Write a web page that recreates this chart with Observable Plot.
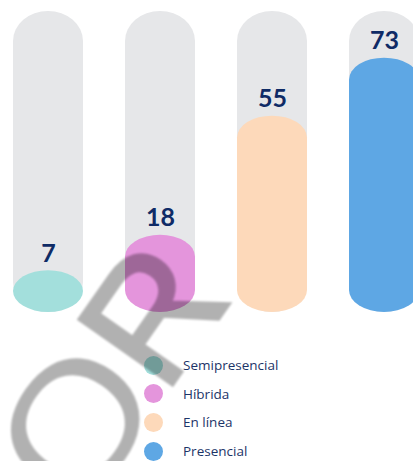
<!DOCTYPE html>
<html>
<head>
<meta charset="utf-8">
<script src="https://cdn.jsdelivr.net/npm/d3@7"></script>
<script src="https://cdn.jsdelivr.net/npm/@observablehq/plot@0.6"></script>
<style>
  html, body { margin: 0; padding: 0; background: #fff; overflow: hidden; width: 413px; height: 461px; }
  #wrap { position: relative; width: 413px; height: 461px; overflow: hidden; }
  #chart svg { display: block; overflow: hidden; }
  #legend { margin-top: 21px; padding-left: 144px; font-family: "Open Sans", "Noto Sans", sans-serif; font-size: 13.5px; color: #1c3468; }
  .row { display: flex; align-items: center; height: 28.6px; }
  .dot { width: 19px; height: 19px; border-radius: 50%; margin-right: 20px; flex: none; }
  #wm { position: absolute; left: 0; top: 0; pointer-events: none; }
</style>
</head>
<body>
<div id="wrap">
  <div id="chart"></div>
  <div id="legend"></div>
  <svg id="wm" width="413" height="461"></svg>
</div>
<script>
// ---- data ----
const categories = ["Semipresencial", "Híbrida", "En línea", "Presencial"];
const values = [7, 18, 55, 73];
const colors = ["#a3dfdc", "#e495dc", "#fdd9ba", "#5ea7e4"];
const legendLabels = ["Semipresencial", "Híbrida", "En línea", "Presencial"];
const legendColors = ["#a3dfdc", "#e495dc", "#fdd9ba", "#5ea7e4"];
const trackValue = 87.5;   // value reached by the grey track
const scaleFloor = -6;     // baseline of the pills

const data = categories.map((c, i) => ({category: c, value: values[i], color: colors[i]}));
const tracks = categories.map(c => ({category: c, value: trackValue}));

const chart = Plot.plot({
  width: 413,
  height: 330,
  margin: 0,
  style: {background: "transparent"},
  x: {domain: categories, range: [-8, 440], paddingInner: 0.375, paddingOuter: 0.1875, axis: null},
  y: {domain: [scaleFloor, trackValue], range: [312, 11], axis: null},
  color: {type: "identity"},
  marks: [
    Plot.barY(tracks, {x: "category", y1: scaleFloor, y2: "value", fill: "#e6e7e9", rx: 35, ry: 30}),
    Plot.barY(data, {x: "category", y1: scaleFloor, y2: "value", fill: "color", rx: 35, ry: 22}),
    Plot.text(data, {
      x: "category", y: "value", text: d => String(d.value),
      dy: -9, lineAnchor: "bottom",
      fontSize: 25, fontWeight: "bold",
      fontFamily: "Lato, 'Open Sans', sans-serif",
      fill: "#0f2b66"
    })
  ]
});
document.getElementById("chart").appendChild(chart);

// legend
const legend = document.getElementById("legend");
legendLabels.forEach((label, i) => {
  const row = document.createElement("div");
  row.className = "row";
  const dot = document.createElement("span");
  dot.className = "dot";
  dot.style.background = legendColors[i];
  const txt = document.createElement("span");
  txt.textContent = label;
  row.appendChild(dot);
  row.appendChild(txt);
  legend.appendChild(row);
});

// watermark (decorative)
const wm = d3.select("#wm");
wm.append("defs").append("filter").attr("id", "blur")
  .append("feGaussianBlur").attr("stdDeviation", 0.8);
const g = wm.append("g").attr("opacity", 0.3).attr("filter", "url(#blur)");
g.append("text")
  .attr("transform", "translate(124,458) rotate(-55) scale(1.1,1)")
  .attr("text-anchor", "middle")
  .attr("font-family", "'Liberation Sans', Arial, sans-serif")
  .attr("font-size", 172)
  .attr("fill", "#000")
  .text("O");
g.append("text")
  .attr("transform", "translate(233,298) rotate(-55)")
  .attr("text-anchor", "end")
  .attr("font-family", "'Liberation Sans', Arial, sans-serif")
  .attr("font-size", 165)
  .attr("fill", "#000")
  .attr("stroke", "#000")
  .attr("stroke-width", 4)
  .text("R");
</script>
</body>
</html>
